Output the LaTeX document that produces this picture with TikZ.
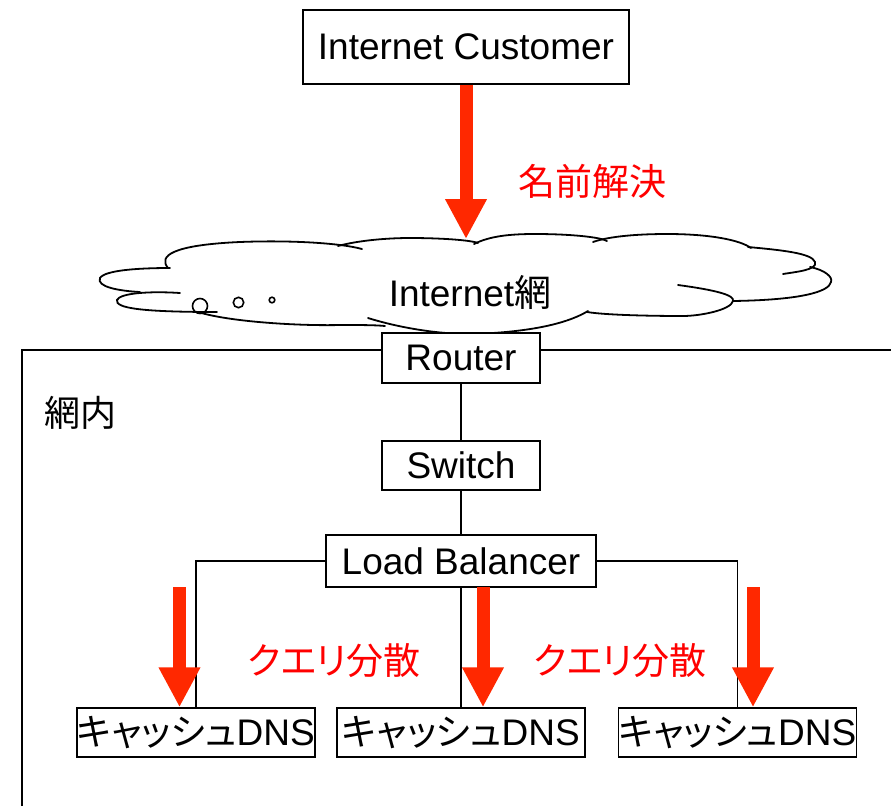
\documentclass[tikz,border=0pt]{standalone}
\usepackage{fontspec}
\setmainfont{Liberation Sans}
\newfontfamily\jp[RawFeature=+palt]{Noto Sans CJK JP}
\usetikzlibrary{arrows.meta}
\definecolor{arrowred}{RGB}{255,40,0}
\definecolor{labelred}{RGB}{255,0,0}
\tikzset{
	box/.style={draw,fill=white,line width=1.4pt,inner sep=0pt,font=\fontsize{37}{40}\selectfont},
	qarrow/.style={draw=arrowred,line width=13pt,-{Triangle[width=39pt,length=40pt]}},
	note/.style={text=labelred,font=\fontsize{37}{40}\selectfont\jp},
	puff/.style={line width=1.8pt,line cap=round}
}
\begin{document}
\begin{tikzpicture}[x=1pt,y=-1pt,line width=1.4pt]
	\useasboundingbox (0,0) rectangle (891,806);
	\draw (22,806) -- (22,350) -- (891,350);
	\node[font=\fontsize{36}{40}\selectfont\jp,anchor=west] (inside) at (40,413) {網内};
	% cloud
	\draw[puff] (168,268) .. controls (158,256) and (172,245) .. (240,242) .. controls (290,240) and (340,243) .. (362,249);
	\draw[puff] (338,246) .. controls (360,240) and (390,238) .. (410,238) .. controls (440,238) and (470,240) .. (478,243);
	\draw[puff] (474,244) .. controls (490,236) and (510,234) .. (535,234) .. controls (570,234) and (600,237) .. (607,241);
	\draw[puff] (593,242) .. controls (610,236) and (640,234) .. (667,234) .. controls (710,234) and (740,240) .. (751,248);
	\draw[puff] (748,247) .. controls (780,250) and (812,253) .. (815,262) .. controls (818,270) and (795,272) .. (783,274);
	\draw[puff] (810,267) .. controls (825,270) and (833,277) .. (831,282) .. controls (829,292) and (800,300) .. (733,301);
	\draw[puff] (678,285) .. controls (715,290) and (735,295) .. (733,301) .. controls (731,310) and (700,316) .. (683,316) .. controls (650,316) and (605,315) .. (587,312);
	\draw[puff] (588,311) .. controls (560,328) and (510,333) .. (470,334) .. controls (430,334) and (390,325) .. (368,318);
	\draw[puff] (198,312) .. controls (230,322) and (300,326) .. (340,325) .. controls (360,325) and (375,325) .. (385,326);
	\draw[puff] (180,293) .. controls (150,291) and (120,293) .. (117,300) .. controls (115,308) and (140,312) .. (217,312);
	\draw[puff] (170,268) .. controls (140,268) and (105,270) .. (100,278) .. controls (96,287) and (120,291) .. (140,292);
	\draw[line width=1.6pt] (200,306) circle (7.5) (238.5,302.5) circle (5.2) (272,300) circle (2.8);
	\node[font=\fontsize{37}{40}\selectfont] (netlabel) at (470,292) {Internet{\jp 網}};
	\node[box,minimum width=326pt,minimum height=74pt] (customer) at (466,47) {Internet Customer};
	\coordinate (tip) at (466,239);
	\draw[qarrow] (customer.south) -- (tip);
	\node[note,anchor=west] (resolve) at (514,181) {名前解決};
	\node[box,minimum width=158pt,minimum height=50pt] (router) at (461,358) {Router};
	\node[box,minimum width=158pt,minimum height=49pt] (switch) at (461,465.5) {Switch};
	\node[box,minimum width=270pt,minimum height=52pt] (lb) at (461,561) {Load Balancer};
	\node[box,minimum width=236pt,minimum height=49pt] (dns1) at (196,732.5) {{\jp キャッシュ}DNS};
	\node[box,minimum width=248pt,minimum height=49pt] (dns2) at (461,732.5) {{\jp キャッシュ}DNS};
	\node[box,minimum width=237pt,minimum height=49pt] (dns3) at (737.5,732.5) {{\jp キャッシュ}DNS};
	\draw (router) -- (switch);
	\draw (switch) -- (lb);
	\draw (lb.west) -| (dns1.north);
	\draw (lb.south) -- (dns2.north);
	\draw (lb.east) -| (dns3.north);
	\coordinate (q1) at (179.5,587);
	\coordinate (q2) at (483,587);
	\coordinate (q3) at (753,587);
	\draw[qarrow] (q1) -- (q1 |- dns1.north);
	\draw[qarrow] (q2) -- (q2 |- dns2.north);
	\draw[qarrow] (q3) -- (q3 |- dns3.north);
	\node[note] (spread1) at (334,661) {クエリ分散};
	\node[note] (spread2) at (620,661) {クエリ分散};
\end{tikzpicture}
\end{document}
